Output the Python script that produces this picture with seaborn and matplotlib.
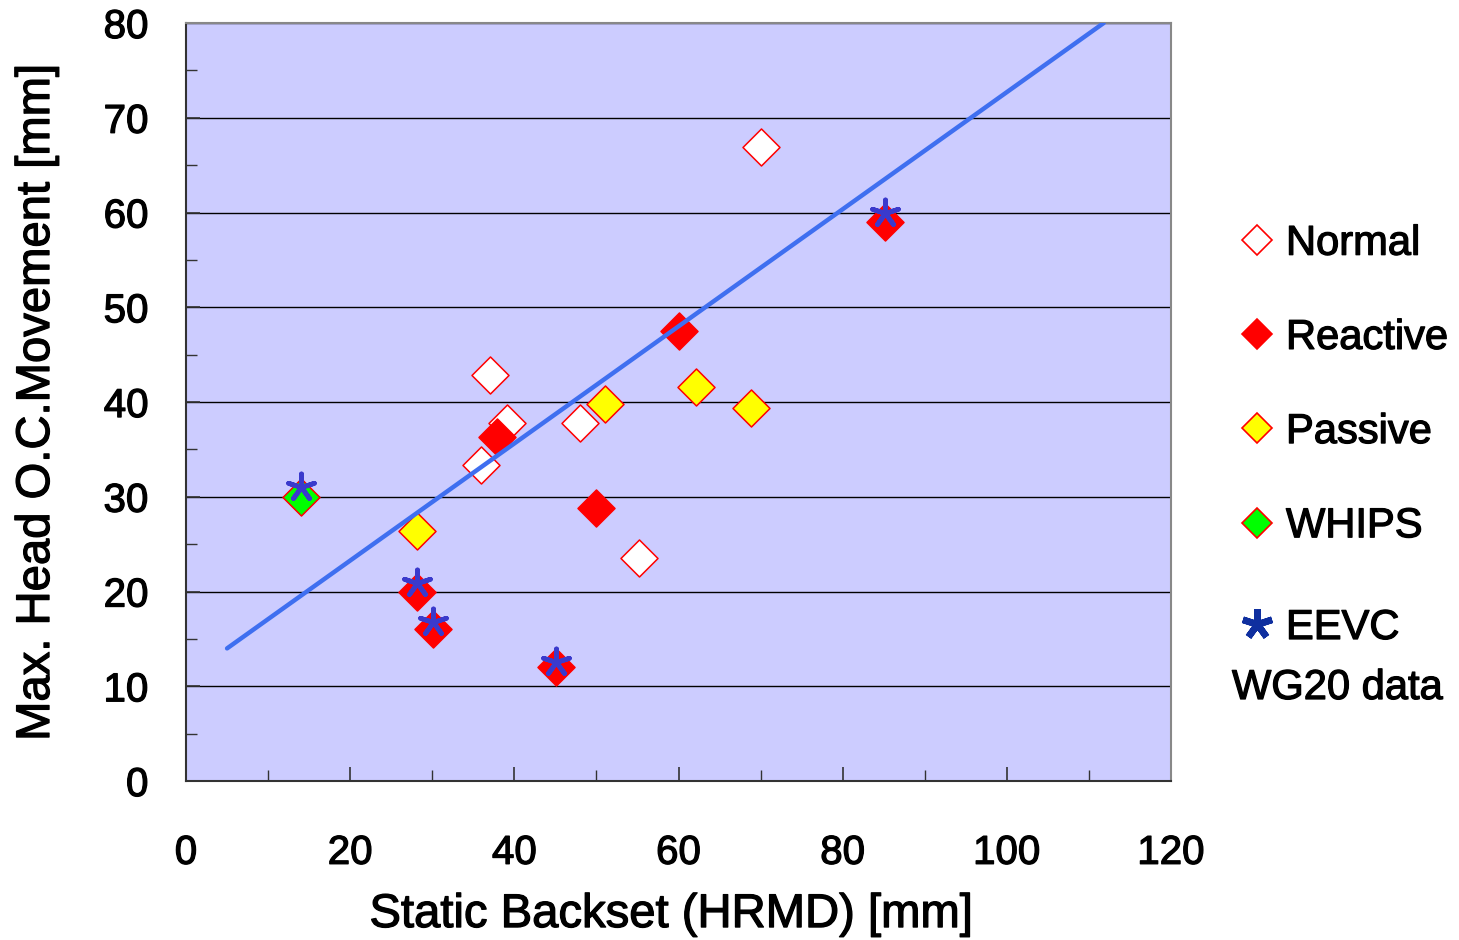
import matplotlib
matplotlib.use("Agg")
import matplotlib.pyplot as plt
import matplotlib.patheffects as pe
import seaborn as sns
from matplotlib.lines import Line2D
from matplotlib.ticker import MultipleLocator

# ---- data ----
normal_x = [37.0, 39.1, 35.9, 48.0, 55.2, 70.1]
normal_y = [42.9, 37.8, 33.4, 37.8, 23.5, 66.9]
reactive_x = [28.1, 30.1, 45.1, 37.9, 50.0, 60.1, 85.1]
reactive_y = [19.9, 16.0, 12.0, 36.3, 28.8, 47.5, 59.0]
passive_x = [28.1, 51.1, 62.1, 68.8]
passive_y = [26.4, 39.8, 41.6, 39.4]
whips_x = [14.0]
whips_y = [30.0]
eevc_x = [14.0, 28.1, 30.1, 45.1, 85.1]
eevc_y = [31.0, 20.9, 16.8, 12.6, 59.9]
trend_x = [5.0, 111.8]
trend_y = [14.0, 80.0]

legend_labels = ["Normal", "Reactive", "Passive", "WHIPS"]
eevc_label = "EEVC"
eevc_label2 = "WG20 data"
x_label = "Static Backset (HRMD) [mm]"
y_label = "Max. Head O.C.Movement [mm]"

sns.set_style("ticks")
plt.rcParams["font.family"] = ["Liberation Sans", "DejaVu Sans"]
plt.rcParams["text.color"] = "black"
plt.rcParams["axes.labelcolor"] = "black"

thick = [pe.withStroke(linewidth=0.9, foreground="black")]

fig = plt.figure(figsize=(14.59, 9.40), dpi=100)
ax = fig.add_axes([0.1275, 0.1691, 0.6751, 0.8064])
ax.set_facecolor("#CCCCFF")

DS = 355
sns.scatterplot(x=normal_x, y=normal_y, marker="D", s=DS, color="white",
                edgecolor="#FF0000", linewidth=1.1, ax=ax, zorder=3)
sns.scatterplot(x=reactive_x, y=reactive_y, marker="D", s=DS, color="#FF0000",
                edgecolor="#FF0000", linewidth=1.1, ax=ax, zorder=3)
sns.scatterplot(x=passive_x, y=passive_y, marker="D", s=DS, color="#FFFF00",
                edgecolor="#FF0000", linewidth=1.1, ax=ax, zorder=3)
sns.scatterplot(x=whips_x, y=whips_y, marker="D", s=DS, color="#00FF00",
                edgecolor="#FF0000", linewidth=1.1, ax=ax, zorder=3)
sns.lineplot(x=trend_x, y=trend_y, color="#3F6FF0", linewidth=3.2, ax=ax,
             zorder=4, solid_capstyle="round")
sns.scatterplot(x=eevc_x, y=eevc_y, marker=(5, 2, 0), s=380, color="#3A3ACC",
                linewidth=3.4, ax=ax, zorder=5)

ax.set_xlim(0, 120)
ax.set_ylim(0, 80)
ax.xaxis.set_major_locator(MultipleLocator(20))
ax.xaxis.set_minor_locator(MultipleLocator(10))
ax.yaxis.set_major_locator(MultipleLocator(10))
ax.yaxis.set_minor_locator(MultipleLocator(5))
ax.tick_params(axis="both", which="major", direction="in", length=10, width=1.2,
               color="#333333", labelsize=29, labelcolor="black")
ax.tick_params(axis="both", which="minor", direction="in", length=8, width=1.0,
               color="#333333")
ax.tick_params(axis="x", which="major", pad=38)
ax.tick_params(axis="y", which="major", pad=27)
ax.yaxis.grid(True, which="major", color="black", linewidth=1.0)
ax.xaxis.grid(False)
ax.set_axisbelow(True)

for side in ["left", "bottom"]:
    ax.spines[side].set_color("#333333")
    ax.spines[side].set_linewidth(1.5)
for side in ["top", "right"]:
    ax.spines[side].set_color("#888888")
    ax.spines[side].set_linewidth(1.5)
    ax.spines[side].set_visible(True)

for lab in ax.get_xticklabels() + ax.get_yticklabels():
    lab.set_path_effects(thick)

ax.set_xlabel(x_label, fontsize=34, path_effects=thick)
ax.set_ylabel(y_label, fontsize=34, path_effects=thick)
ax.xaxis.set_label_coords((671 - 186) / 985, -(915 - 781) / 758)
ax.yaxis.set_label_coords(-(186 - 37) / 985, (781 - 402) / 758)
ax.xaxis.label.set_va("center")
ax.yaxis.label.set_va("center")

def diamond(fc):
    return Line2D([], [], linestyle="", marker="D", markersize=15.5,
                  markerfacecolor=fc, markeredgecolor="#FF0000",
                  markeredgewidth=1.2)

handles = [diamond("white"), diamond("#FF0000"), diamond("#FFFF00"),
           diamond("#00FF00")]
leg = fig.legend(handles, legend_labels, loc="upper left",
                 bbox_to_anchor=(0.850, 0.762), frameon=False, fontsize=30,
                 labelspacing=1.3, handlelength=0.8, handletextpad=0.3,
                 borderaxespad=0, borderpad=0)
for t in leg.get_texts():
    t.set_path_effects(thick)

star = Line2D([], [], linestyle="", marker=(5, 2, 0), markersize=22,
              color="#0F2F9F", markeredgewidth=4.8)
leg2 = fig.legend([star], [eevc_label], loc="center left",
                  bbox_to_anchor=(0.850, 1 - 628 / 940), frameon=False,
                  fontsize=30, handlelength=0.8, handletextpad=0.3,
                  borderaxespad=0, borderpad=0)
for t in leg2.get_texts():
    t.set_path_effects(thick)

fig.text(1232 / 1459, 1 - 688 / 940, eevc_label2, fontsize=30,
         ha="left", va="center", path_effects=thick)

fig.savefig("out.png", dpi=100)
